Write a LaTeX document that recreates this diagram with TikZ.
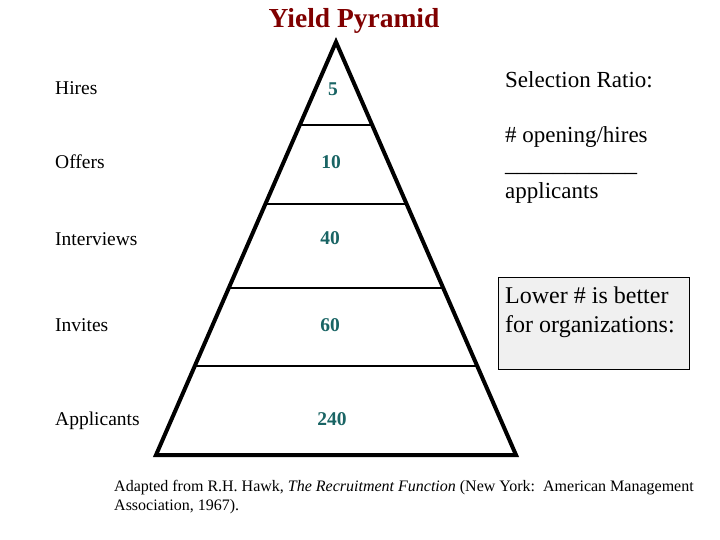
\documentclass[tikz,border=0pt]{standalone}
\usepackage{fontspec}
\setmainfont{Liberation Serif}
\usetikzlibrary{calc}
\definecolor{titlered}{RGB}{128,0,0}
\definecolor{numteal}{RGB}{25,100,100}
\definecolor{boxgray}{RGB}{240,240,240}
\begin{document}
\begin{tikzpicture}[x=1pt,y=-1pt,
  lbl/.style={anchor=base west,inner sep=0pt,font=\fontsize{19.5}{22}\selectfont},
  num/.style={anchor=base,inner sep=0pt,text=numteal,font=\fontsize{19.5}{22}\selectfont\bfseries},
  rt/.style={anchor=base west,inner sep=0pt,font=\fontsize{23}{27}\selectfont},
  bt/.style={anchor=base west,inner sep=0pt,font=\fontsize{24}{28}\selectfont},
  side/.style={line width=4pt,line join=miter},
  tier/.style={line width=2pt}]
\useasboundingbox (0,0) rectangle (720,540);
% title
\node[anchor=base,inner sep=0pt,text=titlered,font=\fontsize{27.5}{30}\selectfont\bfseries] (title) at (354,28) {Yield Pyramid};
% pyramid
\coordinate (apex) at (336,42);
\coordinate (bl) at (156,455);
\coordinate (br) at (516,455);
\draw[side] (bl) -- (apex) -- (br) -- cycle;
\foreach \y in {125,204,288,366}{
  \pgfmathsetmacro{\f}{(\y-42)/413}
  \draw[tier] ($(apex)!\f!(bl)$) -- ($(apex)!\f!(br)$);
}
% numbers
\node[num] (n1) at (333,96) {5};
\node[num] (n2) at (331,169) {10};
\node[num] (n3) at (330,244) {40};
\node[num] (n4) at (330,331) {60};
\node[num] (n5) at (332,425) {240};
% left labels
\node[lbl] (l1) at (55,95) {Hires};
\node[lbl] (l2) at (55,169) {Offers};
\node[lbl] (l3) at (55,245) {Interviews};
\node[lbl] (l4) at (55,331) {Invites};
\node[lbl] (l5) at (55,425) {Applicants};
% right texts
\node[rt] (r1) at (505,88) {Selection Ratio:};
\node[rt] (r2) at (505,143) {\# opening/hires};
\node[rt,font=\fontsize{24}{27}\selectfont] (r3) at (505,172) {\_\_\_\_\_\_\_\_\_\_\_};
\node[rt] (r4) at (505,199) {applicants};
% box
\draw[fill=boxgray,line width=1pt] (498,277) rectangle (689,369);
\node[bt] (b1) at (505,303) {Lower \# is better};
\node[bt] (b2) at (505,332) {for organizations:};
% footnote
\node[anchor=north west,inner sep=0pt,align=left,font=\fontsize{16}{19}\selectfont] (fn) at (114,480)
  {Adapted from R.H. Hawk, \textit{The Recruitment Function} (New York:\ \ American Management\\Association, 1967).};
\end{tikzpicture}
\end{document}
